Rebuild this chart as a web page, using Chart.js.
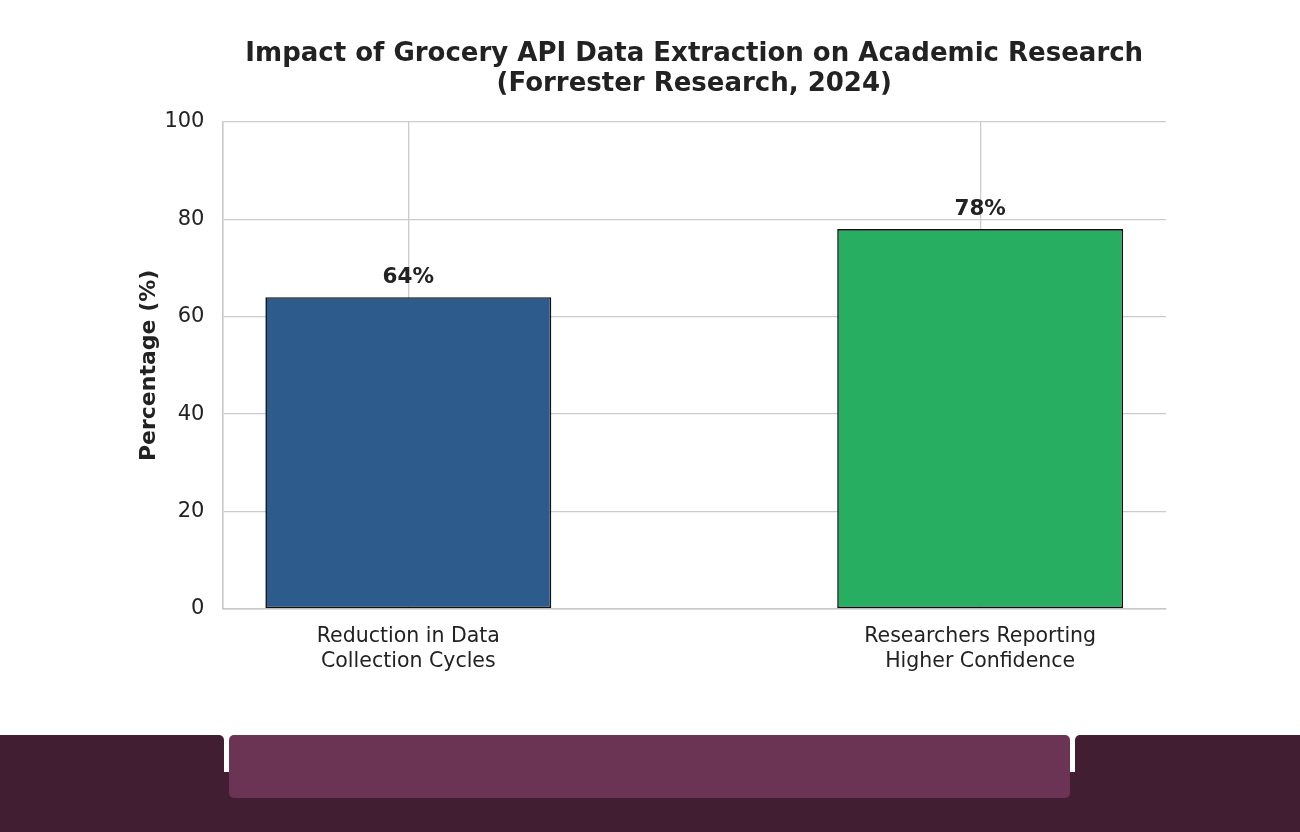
<!DOCTYPE html>
<html>

<head>
    <title>Grocery API Research Impact</title>
    <script src="https://cdn.jsdelivr.net/npm/chart.js"></script>
    <style>
        body { margin: 0; background: #fff; width: 1300px; height: 832px; position: relative; overflow: hidden; }
        #wrap { position: absolute; left: 0; top: 0; width: 1300px; height: 735px; }
        .band { position: absolute; background: #421e33; }
        #bandBottom { left: 0; top: 772px; width: 1300px; height: 60px; }
        #bandLeft { left: 0; top: 735px; width: 224px; height: 60px; border-top-right-radius: 5px; }
        #bandRight { left: 1075px; top: 735px; width: 225px; height: 60px; border-top-left-radius: 5px; }
        #bandMid { position: absolute; left: 229px; top: 735px; width: 841px; height: 63px; background: #6b3354; border-radius: 5px; }
    </style>
</head>

<body>
    <div id="wrap"><canvas id="chart"></canvas></div>
    <div class="band" id="bandBottom"></div>
    <div class="band" id="bandLeft"></div>
    <div class="band" id="bandRight"></div>
    <div id="bandMid"></div>

    <script>
        // Chart data
        const categories = [
            ['Reduction in Data', 'Collection Cycles'],
            ['Researchers Reporting', 'Higher Confidence']
        ];
        const percentages = [64, 78];
        const barColors = ['#2d5b8c', '#27ae60'];
        const yTicks = [0, 20, 40, 60, 80, 100];
        const titleLines = ['Impact of Grocery API Data Extraction on Academic Research', '(Forrester Research, 2024)'];

        const font = 'DejaVu Sans';

        // bars sit at x = 0, 1 with a small margin either side (like matplotlib)
        const points = percentages.map((v, i) => ({ x: i, y: v }));

        // Title centred over the plot area, like the original
        const titlePlugin = {
            id: 'plotTitle',
            afterDraw(chart) {
                const ctx = chart.ctx;
                const area = chart.chartArea;
                const cx = (area.left + area.right) / 2;
                ctx.save();
                ctx.font = 'bold 26px "' + font + '"';
                ctx.fillStyle = '#222';
                ctx.textAlign = 'center';
                ctx.textBaseline = 'middle';
                titleLines.forEach((line, i) => ctx.fillText(line, cx, 54 + i * 30));
                ctx.restore();
            }
        };

        // Value labels above each bar
        const valueLabels = {
            id: 'valueLabels',
            afterDatasetsDraw(chart) {
                const ctx = chart.ctx;
                const meta = chart.getDatasetMeta(0);
                ctx.save();
                ctx.font = 'bold 21.5px "' + font + '"';
                ctx.fillStyle = '#222';
                ctx.textAlign = 'center';
                ctx.textBaseline = 'bottom';
                meta.data.forEach((bar, i) => {
                    ctx.fillText(percentages[i] + '%', bar.x, bar.y - 9);
                });
                ctx.restore();
            }
        };

        const ctx = document.getElementById('chart').getContext('2d');
        new Chart(ctx, {
            type: 'bar',
            data: {
                datasets: [{
                    data: points,
                    backgroundColor: barColors,
                    borderColor: '#111111',
                    borderWidth: 1.6,
                    borderSkipped: false,
                    barPercentage: 0.5,
                    categoryPercentage: 1
                }]
            },
            options: {
                responsive: true,
                maintainAspectRatio: false,
                animation: false,
                devicePixelRatio: 1,
                layout: { padding: { top: 122, right: 134, bottom: 45, left: 136 } },
                plugins: {
                    legend: { display: false },
                    tooltip: { enabled: false }
                },
                scales: {
                    x: {
                        type: 'linear',
                        min: -0.325,
                        max: 1.325,
                        offset: false,
                        afterBuildTicks(axis) { axis.ticks = categories.map((c, i) => ({ value: i })); },
                        grid: { color: '#cccccc', lineWidth: 1.3, offset: false, drawTicks: false },
                        border: { color: '#c8c8c8', width: 1.6 },
                        ticks: {
                            color: '#222',
                            font: { family: font, size: 20.5 },
                            padding: 16,
                            maxRotation: 0,
                            callback: v => categories[v]
                        }
                    },
                    y: {
                        min: 0,
                        max: 100,
                        afterBuildTicks(axis) { axis.ticks = yTicks.map(v => ({ value: v })); },
                        grid: { color: '#cccccc', lineWidth: 1.3, drawTicks: false },
                        border: { color: '#c8c8c8', width: 1.6 },
                        ticks: { color: '#222', font: { family: font, size: 21 }, padding: 18 },
                        title: {
                            display: true,
                            text: 'Percentage (%)',
                            color: '#222',
                            font: { family: font, size: 22, weight: 'bold' },
                            padding: { top: 0, bottom: -16 }
                        }
                    }
                }
            },
            plugins: [titlePlugin, valueLabels]
        });
    </script>
</body>

</html>
